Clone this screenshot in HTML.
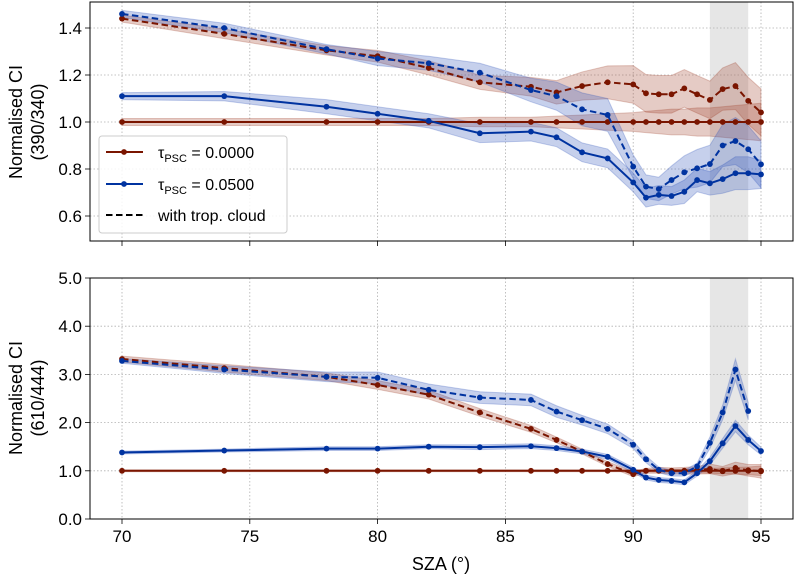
<!DOCTYPE html>
<html><head><meta charset="utf-8"><style>
body{margin:0;background:#fff}
svg{display:block;font-family:"Liberation Sans",Arial,sans-serif}
</style></head><body>
<svg id="c" width="795" height="575"></svg>
<script>
const sza=[70,74,78,80,82,84,86,87,88,89,90,90.5,91,91.5,92,92.5,93,93.5,94,94.5,95];
const topRedSolid=[1,1,1,1,1,1,1,1,1,1,1,1,1,1,1,1,1,1,1,1,1];
const topRedSolidErr=[0.015,0.015,0.015,0.015,0.015,0.02,0.02,0.025,0.03,0.035,0.04,0.045,0.05,0.055,0.055,0.06,0.06,0.065,0.07,0.075,0.08];
const topRedDash=[1.44,1.375,1.305,1.28,1.23,1.169,1.15,1.126,1.153,1.169,1.16,1.122,1.118,1.118,1.143,1.118,1.094,1.14,1.153,1.09,1.041];
const topRedDashErr=[0.015,0.02,0.02,0.025,0.03,0.03,0.04,0.05,0.06,0.07,0.08,0.08,0.08,0.08,0.08,0.08,0.08,0.09,0.1,0.1,0.1];
const topBlueSolid=[1.11,1.11,1.065,1.035,1.005,0.952,0.959,0.935,0.871,0.845,0.743,0.678,0.69,0.685,0.703,0.753,0.739,0.757,0.782,0.782,0.777];
const topBlueSolidErr=[0.015,0.02,0.03,0.03,0.03,0.04,0.04,0.04,0.04,0.04,0.04,0.04,0.04,0.04,0.05,0.05,0.05,0.06,0.07,0.07,0.06];
const topBlueDash=[1.46,1.40,1.31,1.27,1.25,1.21,1.136,1.11,1.054,1.03,0.81,0.725,0.715,0.753,0.786,0.803,0.821,0.9,0.919,0.884,0.82];
const topBlueDashErr=[0.015,0.02,0.02,0.03,0.03,0.04,0.05,0.06,0.07,0.07,0.05,0.05,0.05,0.06,0.07,0.08,0.08,0.09,0.1,0.1,0.1];
const botRedSolid=[1,1,1,1,1,1,1,1,1,1,1,1,1,1,1,1,1,1,1,1,1];
const botRedSolidErr=[0.02,0.02,0.02,0.02,0.02,0.02,0.02,0.02,0.02,0.02,0.02,0.02,0.03,0.03,0.03,0.04,0.05,0.06,0.07,0.08,0.1];
const botRedDash=[3.32,3.13,2.95,2.78,2.58,2.21,1.87,1.64,1.40,1.14,0.93,1.0,1.01,1.0,1.0,1.01,1.04,0.99,1.06,1.01,0.99];
const botRedDashErr=[0.06,0.08,0.08,0.09,0.09,0.08,0.07,0.06,0.05,0.05,0.05,0.05,0.06,0.06,0.07,0.08,0.1,0.1,0.12,0.12,0.14];
const botBlueSolid=[1.38,1.42,1.46,1.46,1.5,1.49,1.51,1.47,1.40,1.29,1.02,0.86,0.81,0.79,0.76,0.95,1.2,1.57,1.93,1.64,1.41];
const botBlueSolidErr=[0.03,0.03,0.04,0.04,0.04,0.05,0.05,0.05,0.05,0.05,0.05,0.05,0.05,0.05,0.05,0.06,0.08,0.1,0.12,0.1,0.08];
const botBlueDash=[3.28,3.1,2.95,2.93,2.68,2.52,2.47,2.23,2.05,1.87,1.54,1.24,1.02,0.95,0.95,1.09,1.58,2.21,3.1,2.24,null];
const botBlueDashErr=[0.05,0.08,0.1,0.12,0.12,0.12,0.12,0.12,0.1,0.1,0.08,0.07,0.06,0.06,0.06,0.07,0.12,0.15,0.22,0.18,null];
const xTicks=[70,75,80,85,90,95];
const topYTicks=["0.6","0.8","1.0","1.2","1.4"];
const botYTicks=["0.0","1.0","2.0","3.0","4.0","5.0"];
const shadeSpan=[93,94.5];

const NS="http://www.w3.org/2000/svg";
const svg=document.getElementById('c');
function mk(t,a,p){const e=document.createElementNS(NS,t);for(const k in a)e.setAttribute(k,a[k]);(p||svg).appendChild(e);return e;}
const X0=90,X1=793;
const xs=v=>122+(v-70)*639/25;
const panels=[
 {y0:2,y1:241,ys:v=>122-(v-1)*235,name:'top'},
 {y0:278,y1:519,ys:v=>519-v*48.2,name:'bottom'}
];
const RED='#7a1500',BLUE='#0033a0',REDF='rgba(160,70,45,0.28)',BLUEF='rgba(50,85,185,0.28)';

function band(p,vals,err,fill,nm){
  const up=[],dn=[];
  sza.forEach((x,i)=>{if(vals[i]==null)return;up.push(xs(x)+','+p.ys(vals[i]+err[i]));dn.unshift(xs(x)+','+p.ys(vals[i]-err[i]));});
  const e=mk('polygon',{points:up.concat(dn).join(' '),fill:fill,stroke:fill,'stroke-width':1});
  
  
}
function line(p,vals,col,dash,nm){
  const pts=[];sza.forEach((x,i)=>{if(vals[i]!=null)pts.push([xs(x),p.ys(vals[i])]);});
  const g=mk('g',{});
  
  
  mk('polyline',{points:pts.map(q=>q.join(',')).join(' '),fill:'none',stroke:col,'stroke-width':2,'stroke-dasharray':dash?'6.5,3.5':'none'},g);
  pts.forEach(q=>{const c=mk('circle',{cx:q[0],cy:q[1],r:2.9,fill:col},g);
    
    });
}

panels.forEach((p,pi)=>{
  const clip=mk('clipPath',{id:'cl'+pi});mk('rect',{x:X0,y:p.y0,width:X1-X0,height:p.y1-p.y0},clip);
  const sh=mk('rect',{x:xs(shadeSpan[0]),y:p.y0,width:xs(shadeSpan[1])-xs(shadeSpan[0]),height:p.y1-p.y0,fill:'#e6e6e6'});
  
  
  xTicks.forEach(t=>{mk('line',{x1:xs(t),x2:xs(t),y1:p.y0,y2:p.y1,stroke:'#b0b0b0','stroke-width':0.8,'stroke-dasharray':'1.5,2'});
    mk('line',{x1:xs(t),x2:xs(t),y1:p.y1,y2:p.y1+5,stroke:'#000','stroke-width':0.8});});
  const yt=pi==0?topYTicks:botYTicks;
  yt.forEach(t=>{const y=p.ys(parseFloat(t));
    mk('line',{x1:X0,x2:X1,y1:y,y2:y,stroke:'#b0b0b0','stroke-width':0.8,'stroke-dasharray':'1.5,2'});
    mk('line',{x1:X0-5,x2:X0,y1:y,y2:y,stroke:'#000','stroke-width':0.8});
    const tx=mk('text',{x:X0-8,y:y+6,'text-anchor':'end','font-size':17});tx.textContent=t;
    
    });
  const data=pi==0?[topRedSolid,topRedSolidErr,topRedDash,topRedDashErr,topBlueSolid,topBlueSolidErr,topBlueDash,topBlueDashErr]
                  :[botRedSolid,botRedSolidErr,botRedDash,botRedDashErr,botBlueSolid,botBlueSolidErr,botBlueDash,botBlueDashErr];
  band(p,data[0],data[1],REDF,p.name+'-red-solid-band');
  band(p,data[2],data[3],REDF,p.name+'-red-dashed-band');
  band(p,data[4],data[5],BLUEF,p.name+'-blue-solid-band');
  band(p,data[6],data[7],BLUEF,p.name+'-blue-dashed-band');
  line(p,data[0],RED,false,p.name+'-red-solid-line');
  line(p,data[2],RED,true,p.name+'-red-dashed-line');
  line(p,data[4],BLUE,false,p.name+'-blue-solid-line');
  line(p,data[6],BLUE,true,p.name+'-blue-dashed-line');
  const fr=mk('rect',{x:X0,y:p.y0,width:X1-X0,height:p.y1-p.y0,fill:'none',stroke:'#000','stroke-width':1});
  
  
});
xTicks.forEach(t=>{const tx=mk('text',{x:xs(t),y:542,'text-anchor':'middle','font-size':17});tx.textContent=t;
  
  });
</script>
<svg style="position:absolute;left:0;top:0" width="795" height="575">
<g font-family="Liberation Sans, Arial, sans-serif">
<text x="441" y="570" text-anchor="middle" font-size="18">SZA (°)</text>
<text transform="translate(22,122) rotate(-90)" text-anchor="middle" font-size="18"><tspan x="0" y="0">Normalised CI</tspan><tspan x="0" y="22">(390/340)</tspan></text>
<text transform="translate(22,398) rotate(-90)" text-anchor="middle" font-size="18"><tspan x="0" y="0">Normalised CI</tspan><tspan x="0" y="22">(610/444)</tspan></text>
<g>
<rect x="99" y="136" width="188" height="97" rx="3" fill="rgba(255,255,255,0.85)" stroke="#ccc"/>
<line x1="106" x2="143" y1="152" y2="152" stroke="#7a1500" stroke-width="2"/><circle cx="124" cy="152" r="2.9" fill="#7a1500"/>
<text x="158" y="158" font-size="16">τ<tspan font-size="11" dy="4">PSC</tspan><tspan dy="-4"> = 0.0000</tspan></text>
<line x1="106" x2="143" y1="184" y2="184" stroke="#0033a0" stroke-width="2"/><circle cx="124" cy="184" r="2.9" fill="#0033a0"/>
<text x="158" y="190" font-size="16">τ<tspan font-size="11" dy="4">PSC</tspan><tspan dy="-4"> = 0.0500</tspan></text>
<line x1="106" x2="143" y1="215" y2="215" stroke="#000" stroke-width="2" stroke-dasharray="6.5,3.5"/>
<text x="158" y="221" font-size="16">with trop. cloud</text>
</g></g></svg>
</body></html>
